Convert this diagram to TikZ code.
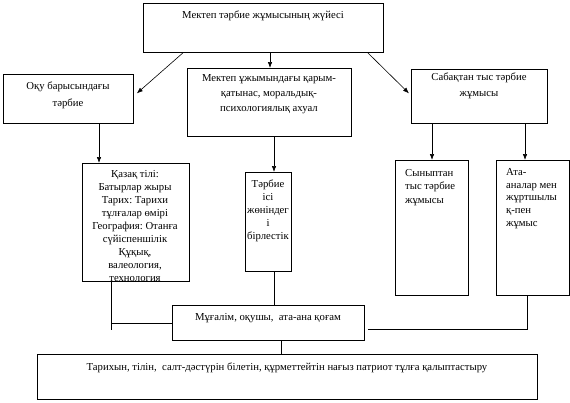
\documentclass[tikz,border=0pt]{standalone}
\usepackage{fontspec}
\setmainfont{Liberation Serif}
\usetikzlibrary{arrows.meta}
\frenchspacing
\begin{document}
\begin{tikzpicture}[x=1pt,y=-1pt,
  box/.style={draw, line width=0.8pt, inner sep=0pt, anchor=north west},
  txt/.style={inner sep=0pt, anchor=north, align=center, font=\fontsize{10.7}{13}\selectfont},
  ltxt/.style={inner sep=0pt, anchor=north west, align=left, font=\fontsize{10.7}{13}\selectfont},
  arr/.style={-{Latex[length=6pt,width=4.5pt]}, line width=0.6pt},
  ln/.style={line width=0.8pt}]
\useasboundingbox (0,0) rectangle (570,402);
% boxes
\node[box, minimum width=240pt, minimum height=49pt] (top) at (143,3) {};
\node[box, minimum width=130pt, minimum height=49pt] (learn) at (3,74) {};
\node[box, minimum width=164pt, minimum height=68pt] (mid) at (187,68) {};
\node[box, minimum width=136pt, minimum height=54pt] (extra) at (411,69) {};
\node[box, minimum width=107pt, minimum height=118pt] (kaz) at (82,163) {};
\node[box, minimum width=46pt, minimum height=99pt] (tarb) at (245,172) {};
\node[box, minimum width=73pt, minimum height=135pt] (class) at (395,160) {};
\node[box, minimum width=73pt, minimum height=135pt] (parent) at (496,160) {};
\node[box, minimum width=192pt, minimum height=35pt] (teach) at (172,305) {};
\node[box, minimum width=500pt, minimum height=45pt] (goal) at (37,354) {};
% texts
\node[txt] (ttop) at (263,11) {Мектеп тәрбие жұмысының жүйесі};
\node[txt, font=\fontsize{10.7}{17}\selectfont] (tlearn) at (68,82) {Оқу барысындағы\\тәрбие};
\node[txt, font=\fontsize{10.7}{15}\selectfont] (tmid) at (269,74) {Мектеп ұжымындағы қарым-\\қатынас, моральдық-\\психологиялық ахуал};
\node[txt, font=\fontsize{10.7}{16}\selectfont] (textra) at (479,73) {Сабақтан тыс тәрбие\\жұмысы};
\begin{scope}
\clip (82,163) rectangle (189,281);
\node[txt] (tkaz) at (135,170) {Қазақ тілі:\\Батырлар жыры\\Тарих: Тарихи\\тұлғалар өмірі\\География: Отанға\\сүйіспеншілік\\Құқық,\\валеология,\\технология};
\end{scope}
\node[txt] (ttarb) at (268,180) {Тәрбие\\ісі\\жөніндег\\і\\бірлестік};
\node[ltxt, font=\fontsize{10.7}{13.5}\selectfont] (tclass) at (405,169) {Сыныптан\\тыс тәрбие\\жұмысы};
\node[ltxt, font=\fontsize{10.7}{12.8}\selectfont] (tparent) at (506,168) {Ата-\\аналар мен\\жұртшылы\\қ-пен\\жұмыс};
\node[txt] (tteach) at (268,313) {Мұғалім, оқушы,~ ата-ана қоғам};
\node[txt] (tgoal) at (287,363) {Тарихын, тілін,~ салт-дәстүрін білетін, құрметтейтін нағыз патриот тұлға қалыптастыру};
% connector ends
\coordinate (kazend) at (111,330);
\coordinate (kazjoin) at (111,323);
\coordinate (parcorner) at (527,329);
\coordinate (parend) at (368,329);
% arrows
\draw[arr] ([xshift=40pt]top.south west) -- ([xshift=3pt,yshift=5.5pt]learn.east);
\draw[arr] (top.south -| 270,0) -- (mid.north -| 270,0);
\draw[arr] ([xshift=-16pt]top.south east) -- ([xshift=-2pt,yshift=3pt]extra.west);
\draw[arr] (learn.south -| 99,0) -- (kaz.north -| 99,0);
\draw[arr] (mid.south -| 274,0) -- (tarb.north -| 274,0);
\draw[arr] (extra.south -| 432,0) -- (class.north -| 432,0);
\draw[arr] (extra.south -| 525,0) -- (parent.north -| 525,0);
% lines
\draw[ln] (kaz.south -| kazend) -- (kazend);
\draw[ln] (kazjoin) -- (teach.west |- kazjoin);
\draw[ln] (tarb.south -| 274,0) -- (teach.north -| 274,0);
\draw[ln] (parent.south -| parcorner) -- (parcorner) -- (parend);
\draw[ln] (teach.south -| 281,0) -- (goal.north -| 281,0);
\end{tikzpicture}
\end{document}
